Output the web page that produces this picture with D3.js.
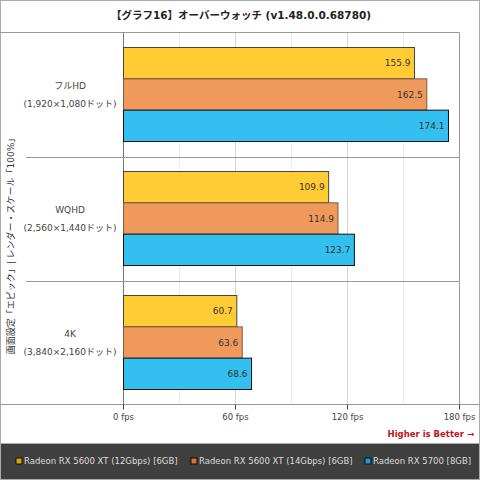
<!DOCTYPE html>
<html lang="ja">
<head>
  <meta charset="UTF-8">
  <script src="https://d3js.org/d3.v7.min.js"></script>
  <title>オーバーウォッチ</title>
  <style>
    body { margin: 0; background: #fff; }
    svg text { font-family: "DejaVu Sans", "Noto Sans CJK JP", sans-serif; }
  </style>
</head>
<body>
  <svg width="480" height="480"></svg>

  <script>
    const width = 480, height = 480;

    // data
    const title = "【グラフ16】オーバーウォッチ (v1.48.0.0.68780)";
    const yTitle = "画面設定「エピック」| レンダー・スケール「100%」";
    const categories = ["フルHD", "WQHD", "4K"];
    const subLabels = ["(1,920×1,080ドット)", "(2,560×1,440ドット)", "(3,840×2,160ドット)"];
    const seriesNames = [
      "Radeon RX 5600 XT (12Gbps) [6GB]",
      "Radeon RX 5600 XT (14Gbps) [6GB]",
      "Radeon RX 5700 [8GB]"
    ];
    const values = [
      [155.9, 109.9, 60.7],
      [162.5, 114.9, 63.6],
      [174.1, 123.7, 68.6]
    ];
    const ticks = [0, 60, 120, 180];
    const minorTicks = [30, 90, 150];

    const fills = ["#ffcc33", "#f0995c", "#33bff0"];
    const strokes = ["#444", "#7a5a44", "#111"];
    const legendFills = ["#d9a400", "#d9702e", "#1a9ad6"];

    const plot = { left: 123.5, right: 459.5, top: 32.5, bottom: 404.5 };

    const svg = d3.select("svg");

    // outer frame
    svg.append("rect")
      .attr("x", 0.5).attr("y", 0.5)
      .attr("width", width - 1).attr("height", height - 1)
      .attr("fill", "#fff").attr("stroke", "#aaa");

    svg.append("text")
      .attr("x", 241).attr("y", 19)
      .attr("text-anchor", "middle")
      .attr("font-size", 10.5).attr("font-weight", "bold")
      .attr("fill", "#222")
      .text(title);

    const x = d3.scaleLinear().domain([0, 180]).range([plot.left, plot.right]);
    const y = d3.scaleBand().domain(categories).range([plot.top, plot.bottom]);
    const ySub = d3.scaleBand().domain(d3.range(seriesNames.length))
      .range([15, y.bandwidth() - 15]);

    // gridlines
    svg.append("g").selectAll("line")
      .data(minorTicks)
      .join("line")
      .attr("x1", d => x(d)).attr("x2", d => x(d))
      .attr("y1", plot.top).attr("y2", plot.bottom)
      .attr("stroke", "#ececec");
    svg.append("g").selectAll("line")
      .data(ticks.slice(1, -1))
      .join("line")
      .attr("x1", d => x(d)).attr("x2", d => x(d))
      .attr("y1", plot.top).attr("y2", plot.bottom)
      .attr("stroke", "#d4d4d4");

    // frame lines
    svg.append("line")
      .attr("x1", 0).attr("x2", plot.right)
      .attr("y1", plot.top).attr("y2", plot.top)
      .attr("stroke", "#999");
    svg.append("line")
      .attr("x1", 0).attr("x2", width)
      .attr("y1", plot.bottom).attr("y2", plot.bottom)
      .attr("stroke", "#999");
    svg.append("line")
      .attr("x1", plot.left).attr("x2", plot.left)
      .attr("y1", plot.top).attr("y2", plot.bottom)
      .attr("stroke", "#777");
    svg.append("line")
      .attr("x1", plot.right).attr("x2", plot.right)
      .attr("y1", plot.top).attr("y2", plot.bottom)
      .attr("stroke", "#999");

    // category separators
    svg.append("g").selectAll("line")
      .data(categories.slice(1))
      .join("line")
      .attr("x1", 26).attr("x2", plot.right)
      .attr("y1", d => Math.round(y(d)) + 0.5).attr("y2", d => Math.round(y(d)) + 0.5)
      .attr("stroke", "#999");

    // bars
    const groups = svg.append("g").selectAll("g")
      .data(categories)
      .join("g")
      .attr("transform", d => `translate(0,${y(d)})`);

    groups.each(function(cat, ci) {
      const g = d3.select(this);
      seriesNames.forEach((s, si) => {
        const v = values[si][ci];
        g.append("rect")
          .attr("x", x(0))
          .attr("y", ySub(si))
          .attr("width", x(v) - x(0))
          .attr("height", ySub.bandwidth())
          .attr("fill", fills[si])
          .attr("stroke", strokes[si])
          .attr("stroke-width", 1);
        g.append("text")
          .attr("x", x(v) - 4)
          .attr("y", ySub(si) + ySub.bandwidth() / 2)
          .attr("dy", "0.35em")
          .attr("text-anchor", "end")
          .attr("font-size", 9)
          .attr("fill", "#333")
          .text(v.toFixed(1));
      });
      g.append("text")
        .attr("x", 70).attr("y", y.bandwidth() / 2 - 9)
        .attr("dy", "0.35em")
        .attr("text-anchor", "middle")
        .attr("font-size", 9).attr("fill", "#444")
        .text(cat);
      g.append("text")
        .attr("x", 70).attr("y", y.bandwidth() / 2 + 9)
        .attr("dy", "0.35em")
        .attr("text-anchor", "middle")
        .attr("font-size", 9).attr("fill", "#444")
        .text(subLabels[ci]);
    });

    // x axis
    const axis = svg.append("g");
    axis.selectAll("line")
      .data(ticks)
      .join("line")
      .attr("x1", d => x(d)).attr("x2", d => x(d))
      .attr("y1", plot.bottom).attr("y2", plot.bottom + 5)
      .attr("stroke", "#444");
    axis.selectAll("text")
      .data(ticks)
      .join("text")
      .attr("x", d => x(d)).attr("y", 417)
      .attr("dy", "0.35em")
      .attr("text-anchor", "middle")
      .attr("font-size", 8.5).attr("fill", "#444")
      .text(d => d + " fps");

    svg.append("text")
      .attr("x", 474).attr("y", 434)
      .attr("dy", "0.35em")
      .attr("text-anchor", "end")
      .attr("font-size", 8.5).attr("font-weight", "bold")
      .attr("fill", "#c0141c")
      .text("Higher is Better →");

    // y title
    svg.append("text")
      .attr("transform", "translate(11,244) rotate(-90)")
      .attr("text-anchor", "middle")
      .attr("dy", "0.35em")
      .attr("font-size", 9).attr("fill", "#333")
      .text(yTitle);

    // legend
    svg.append("rect")
      .attr("x", 0.5).attr("y", 443.5)
      .attr("width", width - 1).attr("height", 36)
      .attr("fill", "#3f3f3f").attr("stroke", "#aaa");

    const legendX = [16, 191, 365];
    const legend = svg.append("g").selectAll("g")
      .data(seriesNames)
      .join("g")
      .attr("transform", (d, i) => `translate(${legendX[i]},461)`);
    legend.append("rect")
      .attr("x", 0).attr("y", -3)
      .attr("width", 6).attr("height", 6)
      .attr("fill", (d, i) => legendFills[i])
      .attr("stroke", "#111");
    legend.append("text")
      .attr("x", 8).attr("y", 0)
      .attr("dy", "0.35em")
      .attr("font-size", 8.5).attr("fill", "#ddd")
      .text(d => d);
  </script>
</body>
</html>
